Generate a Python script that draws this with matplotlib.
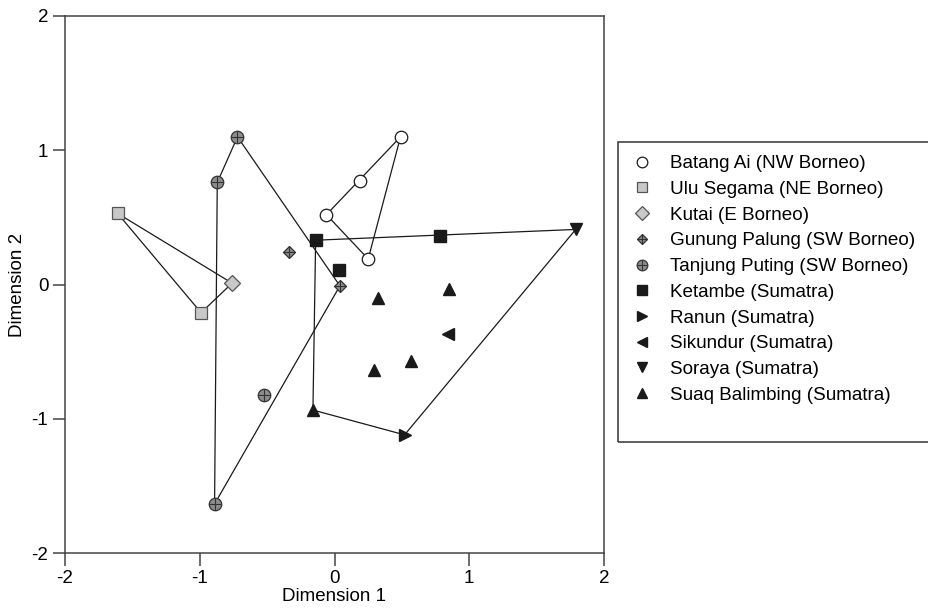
import numpy as np
import matplotlib
matplotlib.use("Agg")
from matplotlib import pyplot as plt
from matplotlib.patches import Rectangle

plt.rcParams['font.family'] = ['Liberation Sans', 'DejaVu Sans']

# site coordinates (Dimension 1, Dimension 2)
batang_x = [-0.06, 0.19, 0.49, 0.25]
batang_y = [0.52, 0.77, 1.10, 0.19]
ulu_x = [-1.61, -0.99]
ulu_y = [0.53, -0.21]
kutai_x = [-0.76]
kutai_y = [0.01]
gunung_x = [-0.34, 0.04]
gunung_y = [0.24, -0.01]
tanjung_x = [-0.72, -0.87, -0.52, -0.89]
tanjung_y = [1.10, 0.76, -0.82, -1.635]
ketambe_x = [-0.14, 0.03, 0.78]
ketambe_y = [0.33, 0.11, 0.36]
ranun_x = [0.52]
ranun_y = [-1.12]
sikundur_x = [0.84]
sikundur_y = [-0.37]
soraya_x = [1.79]
soraya_y = [0.41]
suaq_x = [0.32, 0.85, 0.57, 0.29, -0.16]
suaq_y = [-0.10, -0.03, -0.57, -0.64, -0.935]

labels = ["Batang Ai (NW Borneo)", "Ulu Segama (NE Borneo)", "Kutai (E Borneo)",
          "Gunung Palung (SW Borneo)", "Tanjung Puting (SW Borneo)",
          "Ketambe (Sumatra)", "Ranun (Sumatra)", "Sikundur (Sumatra)",
          "Soraya (Sumatra)", "Suaq Balimbing (Sumatra)"]


def hull(xs, ys):
    pts = sorted(set(zip(xs, ys)))
    def cross(o, a, b):
        return (a[0]-o[0])*(b[1]-o[1]) - (a[1]-o[1])*(b[0]-o[0])
    lower, upper = [], []
    for p in pts:
        while len(lower) >= 2 and cross(lower[-2], lower[-1], p) <= 0:
            lower.pop()
        lower.append(p)
    for p in reversed(pts):
        while len(upper) >= 2 and cross(upper[-2], upper[-1], p) <= 0:
            upper.pop()
        upper.append(p)
    h = lower[:-1] + upper[:-1]
    h.append(h[0])
    return np.array(h)


fig = plt.figure(figsize=(9.29, 6.09), dpi=100)
ax = fig.add_axes([65/929, 1-553/609, 539/929, 537/609])

groups = [
    (batang_x, batang_y),
    (ulu_x + kutai_x, ulu_y + kutai_y),
    (gunung_x + tanjung_x, gunung_y + tanjung_y),
    (ketambe_x + ranun_x + sikundur_x + soraya_x + suaq_x,
     ketambe_y + ranun_y + sikundur_y + soraya_y + suaq_y),
]
for gx, gy in groups:
    h = hull(gx, gy)
    ax.plot(h[:, 0], h[:, 1], color='#1a1a1a', lw=0.9, zorder=2)

edge = '#333333'
light = '#c8c8c8'
mid = '#8c8c8c'
blk = '#1a1a1a'

h1, = ax.plot(batang_x, batang_y, 'o', ms=9, mfc='white', mec=blk, mew=0.9, zorder=3)
h2, = ax.plot(ulu_x, ulu_y, 's', ms=8.5, mfc=light, mec='#555555', mew=0.9, zorder=3)
h3, = ax.plot(kutai_x, kutai_y, 'D', ms=8, mfc=light, mec='#555555', mew=0.9, zorder=3)
h4a, = ax.plot(gunung_x, gunung_y, 'D', ms=6, mfc=mid, mec=edge, mew=0.9, zorder=3)
h4b, = ax.plot(gunung_x, gunung_y, '+', ms=8, mec=edge, mew=0.8, zorder=4)
h5a, = ax.plot(tanjung_x, tanjung_y, 'o', ms=9, mfc=mid, mec=edge, mew=0.9, zorder=3)
h5b, = ax.plot(tanjung_x, tanjung_y, '+', ms=9, mec=edge, mew=0.8, zorder=4)
h6, = ax.plot(ketambe_x, ketambe_y, 's', ms=8.5, mfc=blk, mec=blk, zorder=3)
h7, = ax.plot(ranun_x, ranun_y, '>', ms=9, mfc=blk, mec=blk, zorder=3)
h8, = ax.plot(sikundur_x, sikundur_y, '<', ms=9, mfc=blk, mec=blk, zorder=3)
h9, = ax.plot(soraya_x, soraya_y, 'v', ms=9, mfc=blk, mec=blk, zorder=3)
h10, = ax.plot(suaq_x, suaq_y, '^', ms=9, mfc=blk, mec=blk, zorder=3)

ax.set_xlim(-2, 2)
ax.set_ylim(-2, 2)
ax.set_xticks([-2, -1, 0, 1, 2])
ax.set_yticks([-2, -1, 0, 1, 2])
ax.set_xticklabels(['-2', '-1', '0', '1', '2'])
ax.set_yticklabels(['-2', '-1', '0', '1', '2'])
for s in ax.spines.values():
    s.set_color('#444444')
    s.set_linewidth(1.1)
ax.tick_params(direction='out', length=9, width=1.1, color='#444444',
               labelsize=13.5, pad=3)
ax.set_xlabel('Dimension 1', fontsize=13.5, labelpad=1)
ax.set_ylabel('Dimension 2', fontsize=13.5, labelpad=4)

handles = [h1, h2, h3, (h4a, h4b), (h5a, h5b), h6, h7, h8, h9, h10]
leg = fig.legend(handles, labels, loc='upper left',
                 bbox_to_anchor=(633/929, 1-155/609), frameon=False,
                 fontsize=13.6, handlelength=1.0, handletextpad=0.97,
                 labelspacing=0.45, borderpad=0, borderaxespad=0,
                 markerscale=0.85)

fig.patches.append(Rectangle((618/929, 1-442/609), 320/929, 300/609,
                             transform=fig.transFigure, fill=False,
                             edgecolor='#333333', lw=1.1, clip_on=False))

fig.savefig('out.png', dpi=100)
